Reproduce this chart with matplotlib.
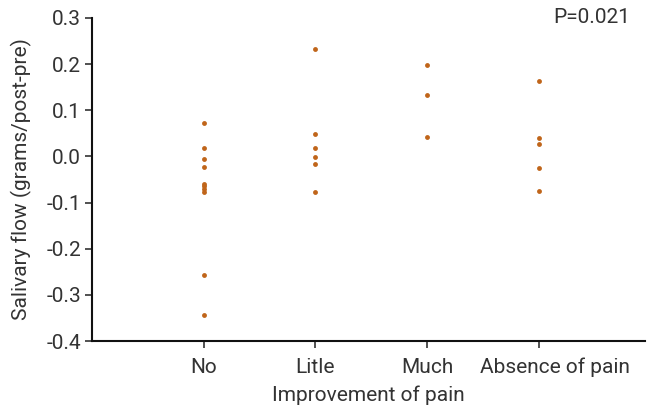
import matplotlib.pyplot as plt
import matplotlib.transforms as mtransforms

categories = ["No", "Litle", "Much", "Absence of pain"]
no_vals = [0.073, 0.019, -0.006, -0.022, -0.060, -0.065, -0.071, -0.078, -0.257, -0.344]
litle_vals = [0.233, 0.049, 0.018, -0.001, -0.016, -0.078]
much_vals = [0.197, 0.134, 0.043]
absence_vals = [0.164, 0.039, 0.028, -0.025, -0.074]
groups = [no_vals, litle_vals, much_vals, absence_vals]
y_ticks = [-0.4, -0.3, -0.2, -0.1, 0.0, 0.1, 0.2, 0.3]

plt.rcParams['font.family'] = ['Roboto', 'DejaVu Sans']

fig = plt.figure(figsize=(6.54, 4.08), dpi=100)
ax = fig.add_axes([0.1407, 0.164, 0.845, 0.792])

for i, vals in enumerate(groups):
    ax.plot([i + 1] * len(vals), vals, linestyle="none", marker="o",
            markersize=3.5, color="#c0651a", markeredgewidth=0)

ax.set_xlim(0, 4.95)
ax.set_ylim(-0.4, 0.3)
ax.set_xticks([1, 2, 3, 4])
ax.set_xticklabels(categories)
ax.set_yticks(y_ticks)
ax.set_yticklabels([f"{t:.1f}" for t in y_ticks])
ax.tick_params(labelsize=15, colors="#333333", width=1.2, length=5, pad=3)
ax.tick_params(axis="x", pad=7)
# last category label sits a bit right of its tick in the original
lab = ax.get_xticklabels()[3]
lab.set_transform(lab.get_transform() +
                  mtransforms.ScaledTranslation(0.16, 0, fig.dpi_scale_trans))
ax.set_xlabel("Improvement of pain", fontsize=15, color="#333333", labelpad=6)
ax.set_ylabel("Salivary flow (grams/post-pre)", fontsize=15, color="#333333",
              labelpad=10)
for side in ["top", "right"]:
    ax.spines[side].set_visible(False)
for side in ["left", "bottom"]:
    ax.spines[side].set_linewidth(1.5)
    ax.spines[side].set_color("#111111")

ax.text(0.905, 1.0, "P=0.021", transform=ax.transAxes, ha="center", va="center",
        fontsize=15, color="#333333")

fig.savefig("out.png", dpi=100)
